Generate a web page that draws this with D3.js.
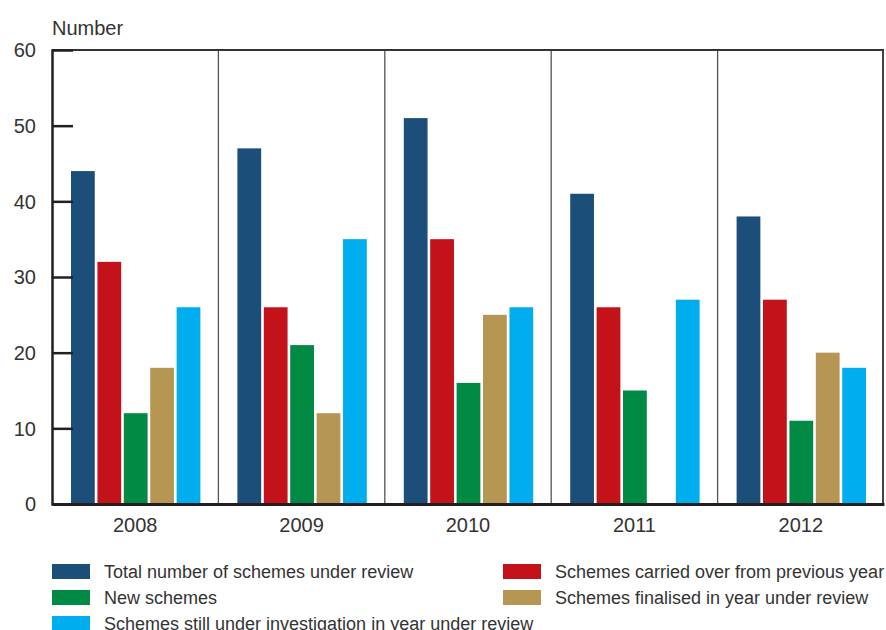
<!DOCTYPE html>
<html>
<head>
<meta charset="utf-8">
<script src="https://cdn.jsdelivr.net/npm/d3@7"></script>
<style>
  body { margin: 0; background: #fff; }
  text { font-family: "Liberation Sans", Arial, sans-serif; fill: #333; }
</style>
</head>
<body>
<div id="chart"></div>
<script>
// chart values
const years = ["2008", "2009", "2010", "2011", "2012"];
const seriesNames = [
  "Total number of schemes under review",
  "Schemes carried over from previous year",
  "New schemes",
  "Schemes finalised in year under review",
  "Schemes still under investigation in year under review"
];
const totalSchemes = [44, 47, 51, 41, 38];
const carriedOver = [32, 26, 35, 26, 27];
const newSchemes = [12, 21, 16, 15, 11];
const finalised = [18, 12, 25, 0, 20];
const stillOpen = [26, 35, 26, 27, 18];
const yTicks = [0, 10, 20, 30, 40, 50, 60];
const colors = ["#1b4f7a", "#c4121b", "#008a43", "#b59652", "#00aeef"];

const width = 886;
const height = 630;
const margin = { left: 52, right: 2, top: 50, bottom: 126 };

const allSeries = [totalSchemes, carriedOver, newSchemes, finalised, stillOpen];

const svg = d3.select("#chart")
  .append("svg")
  .attr("width", width)
  .attr("height", height);

//scales
const x0 = d3.scaleBand()
  .domain(years)
  .range([margin.left, width - margin.right]);

const x1 = d3.scaleBand()
  .domain(d3.range(allSeries.length))
  .range([19, x0.bandwidth() - 18])
  .paddingInner(0.1);

const y = d3.scaleLinear()
  .domain([0, 60])
  .range([height - margin.bottom, margin.top]);

//bars
const groups = svg.selectAll(".year")
  .data(years)
  .enter()
  .append("g")
  .attr("class", "year")
  .attr("transform", (d) => `translate(${x0(d)},0)`);

groups.selectAll("rect")
  .data((d, i) => allSeries.map((s, k) => ({ k: k, v: s[i] })))
  .enter()
  .append("rect")
  .attr("x", (d) => x1(d.k))
  .attr("y", (d) => y(d.v))
  .attr("width", x1.bandwidth())
  .attr("height", (d) => y(0) - y(d.v))
  .attr("fill", (d) => colors[d.k]);

//vertical dividers between years
svg.selectAll(".divider")
  .data(years.slice(1))
  .enter()
  .append("line")
  .attr("x1", (d) => x0(d))
  .attr("x2", (d) => x0(d))
  .attr("y1", y(60))
  .attr("y2", y(0))
  .attr("stroke", "#555")
  .attr("stroke-width", 1.3);

//right border
svg.append("line")
  .attr("x1", width - margin.right - 1)
  .attr("x2", width - margin.right - 1)
  .attr("y1", y(60))
  .attr("y2", y(0))
  .attr("stroke", "#444")
  .attr("stroke-width", 2);

//top border
svg.append("line")
  .attr("x1", margin.left)
  .attr("x2", width - margin.right)
  .attr("y1", y(60))
  .attr("y2", y(60))
  .attr("stroke", "#333")
  .attr("stroke-width", 2);

//y axis: inward ticks
const yAxis = svg.append("g")
  .attr("transform", `translate(${margin.left},0)`)
  .call(d3.axisRight(y).tickValues(yTicks).tickSize(21).tickFormat(""));
yAxis.select(".domain").attr("stroke", "#231f20").attr("stroke-width", 2.5);
yAxis.selectAll(".tick line").attr("stroke", "#231f20").attr("stroke-width", 2.5)
  .filter((d) => d === 0 || d === 60).remove();

svg.selectAll(".ylabel")
  .data(yTicks)
  .enter()
  .append("text")
  .attr("x", 36)
  .attr("y", (d) => y(d))
  .attr("dy", "0.36em")
  .attr("text-anchor", "end")
  .attr("font-size", "20px")
  .text((d) => d);

svg.append("text")
  .attr("x", 52)
  .attr("y", 35)
  .attr("font-size", "20px")
  .text("Number");

//x axis
const xAxis = svg.append("g")
  .attr("transform", `translate(0,${y(0)})`)
  .call(d3.axisBottom(x0).tickSize(0).tickPadding(14));
xAxis.select(".domain").attr("stroke", "#231f20").attr("stroke-width", 3);
xAxis.selectAll("text")
  .attr("font-size", "20px")
  .attr("font-family", "Liberation Sans, Arial, sans-serif")
  .attr("fill", "#333");

//legend
const legendPos = [
  { x: 52, y: 564 }, { x: 503, y: 564 },
  { x: 52, y: 590 }, { x: 503, y: 590 },
  { x: 52, y: 616 }
];

const legend = svg.selectAll(".legend")
  .data(seriesNames)
  .enter()
  .append("g")
  .attr("class", "legend")
  .attr("transform", (d, i) => `translate(${legendPos[i].x},${legendPos[i].y})`);

legend.append("rect")
  .attr("width", 38)
  .attr("height", 15)
  .attr("fill", (d, i) => colors[i]);

legend.append("text")
  .attr("x", 52)
  .attr("y", 8)
  .attr("dy", "0.36em")
  .attr("font-size", "18px")
  .text((d) => d);
</script>
</body>
</html>
